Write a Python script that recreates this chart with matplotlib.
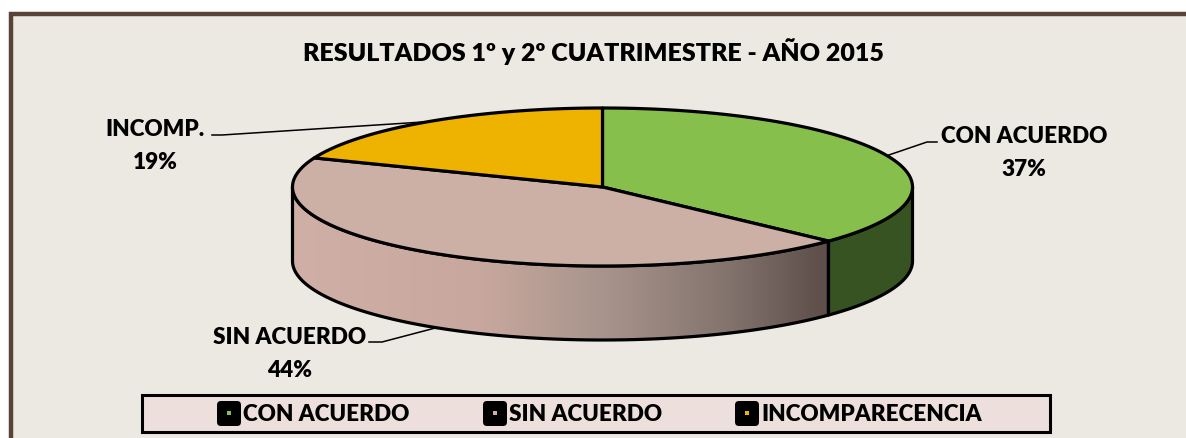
import numpy as np
import matplotlib.pyplot as plt
from matplotlib.patches import Polygon, Rectangle, FancyBboxPatch

# Data
categories = ['CON ACUERDO', 'SIN ACUERDO', 'INCOMP.']
legend_labels = ['CON ACUERDO', 'SIN ACUERDO', 'INCOMPARECENCIA']
values = [37, 44, 19]
title = 'RESULTADOS 1º y 2º CUATRIMESTRE - AÑO 2015'

top_colors = ['#86bf4c', '#ccafa5', '#eeb200']
side_colors = ['#385322', None, '#8a6a00']

plt.rcParams['font.family'] = ['Lato', 'DejaVu Sans']
FW = 'heavy'

# pie geometry in pixels
cx, cy, a, b, depth = 602.5, 188.0, 310.0, 79.0, 74.0
LW = 2.3


def ell(t_deg, dy=0.0):
    t = np.radians(t_deg)
    return np.column_stack([cx + a * np.cos(t), cy - b * np.sin(t) + dy])


fig = plt.figure(figsize=(11.86, 4.39), dpi=100)
fig.patch.set_facecolor('white')
ax = fig.add_axes([0, 0, 1, 1])
ax.set_xlim(0, 1186)
ax.set_ylim(439, 0)
ax.axis('off')

# chart area + border
ax.add_patch(Rectangle((10.5, 14.5), 1200, 450, facecolor='#ece9e3', edgecolor='none', zorder=0))
ax.plot([10.5, 10.5, 1190], [450, 14.5, 14.5], color='#594236', lw=3.2, solid_joinstyle='miter', zorder=1)

total = float(sum(values))
bounds = 90 - 360 * np.cumsum([0] + values) / total

# side walls (front half: t in [-180, 0])
for i in range(len(values)):
    t0, t1 = bounds[i], bounds[i + 1]
    for k in (-1, 0, 1):
        hi = min(t0 + 360 * k, 0)
        lo = max(t1 + 360 * k, -180)
        if hi <= lo:
            continue
        ts = np.linspace(hi, lo, 200)
        pts = np.vstack([ell(ts), ell(ts[::-1], depth)])
        if side_colors[i] is None:
            wall = Polygon(pts, closed=True, facecolor='none', edgecolor='black', lw=LW, zorder=3,
                           joinstyle='round')
            ax.add_patch(wall)
            x0, x1 = cx - a, cx + a
            xs = np.linspace(0, 1, 256)
            stops = [0.0, 0.3, 0.5, 0.7, 0.85, 1.0]
            cols = np.array([[208, 176, 166], [200, 168, 158], [168, 148, 140],
                             [132, 116, 110], [95, 80, 76], [80, 68, 64]]) / 255.0
            grad = np.stack([np.interp(xs, stops, cols[:, c]) for c in range(3)], axis=-1)[None, :, :]
            im = ax.imshow(grad, extent=[x0, x1, cy + b + depth + 5, cy - b], aspect='auto',
                           interpolation='bilinear', zorder=2)
            fill = Polygon(pts, closed=True, facecolor='none', edgecolor='none')
            ax.add_patch(fill)
            im.set_clip_path(fill)
        else:
            ax.add_patch(Polygon(pts, closed=True, facecolor=side_colors[i], edgecolor='black',
                                 lw=LW, zorder=3, joinstyle='round'))

# top faces
for i in range(len(values)):
    ts = np.linspace(bounds[i], bounds[i + 1], 200)
    pts = np.vstack([[cx, cy], ell(ts)])
    ax.add_patch(Polygon(pts, closed=True, facecolor=top_colors[i], edgecolor='black',
                         lw=LW, zorder=4, joinstyle='round'))

# labels with leader lines
mids = (bounds[:-1] + bounds[1:]) / 2
label_pos = [(1024, 137), (290, 338), (155, 130)]
elbows = [[(927, 143), (937, 143)], [(382, 343), (369, 343)], [(222, 136), (212, 136)]]
for i, cat in enumerate(categories):
    m = mids[i]
    dy = depth if np.sin(np.radians(m)) < 0 else 0
    start = ell(np.array([m]), dy)[0]
    line = np.vstack([start, elbows[i]])
    ax.plot(line[:, 0], line[:, 1], color='black', lw=1.1, zorder=5)
    lx, ly = label_pos[i]
    ax.text(lx, ly, cat, ha='center', va='center', fontsize=16.2, fontweight=FW, zorder=6)
    ax.text(lx, ly + 33, f'{values[i] / total:.0%}', ha='center', va='center',
            fontsize=16.2, fontweight=FW, zorder=6)

ax.text(593, 52, title, ha='center', va='center', fontsize=18, fontweight=FW)

# legend
ax.add_patch(Rectangle((142, 396), 908, 37, facecolor='#ede0dc', edgecolor='black', lw=2.2, zorder=5))
marker_x = [217, 483, 735]
for i, lab in enumerate(legend_labels):
    mx = marker_x[i]
    ax.add_patch(FancyBboxPatch((mx, 402), 24, 25, boxstyle='round,pad=0,rounding_size=4',
                                facecolor='black', edgecolor='none', zorder=6))
    ax.add_patch(Rectangle((mx + 10, 412.5), 4, 4, facecolor=top_colors[i], edgecolor='none', zorder=7))
    ax.text(mx + 26, 415, lab, ha='left', va='center', fontsize=16.2, fontweight=FW, zorder=7)

fig.savefig('out.png', dpi=100)
